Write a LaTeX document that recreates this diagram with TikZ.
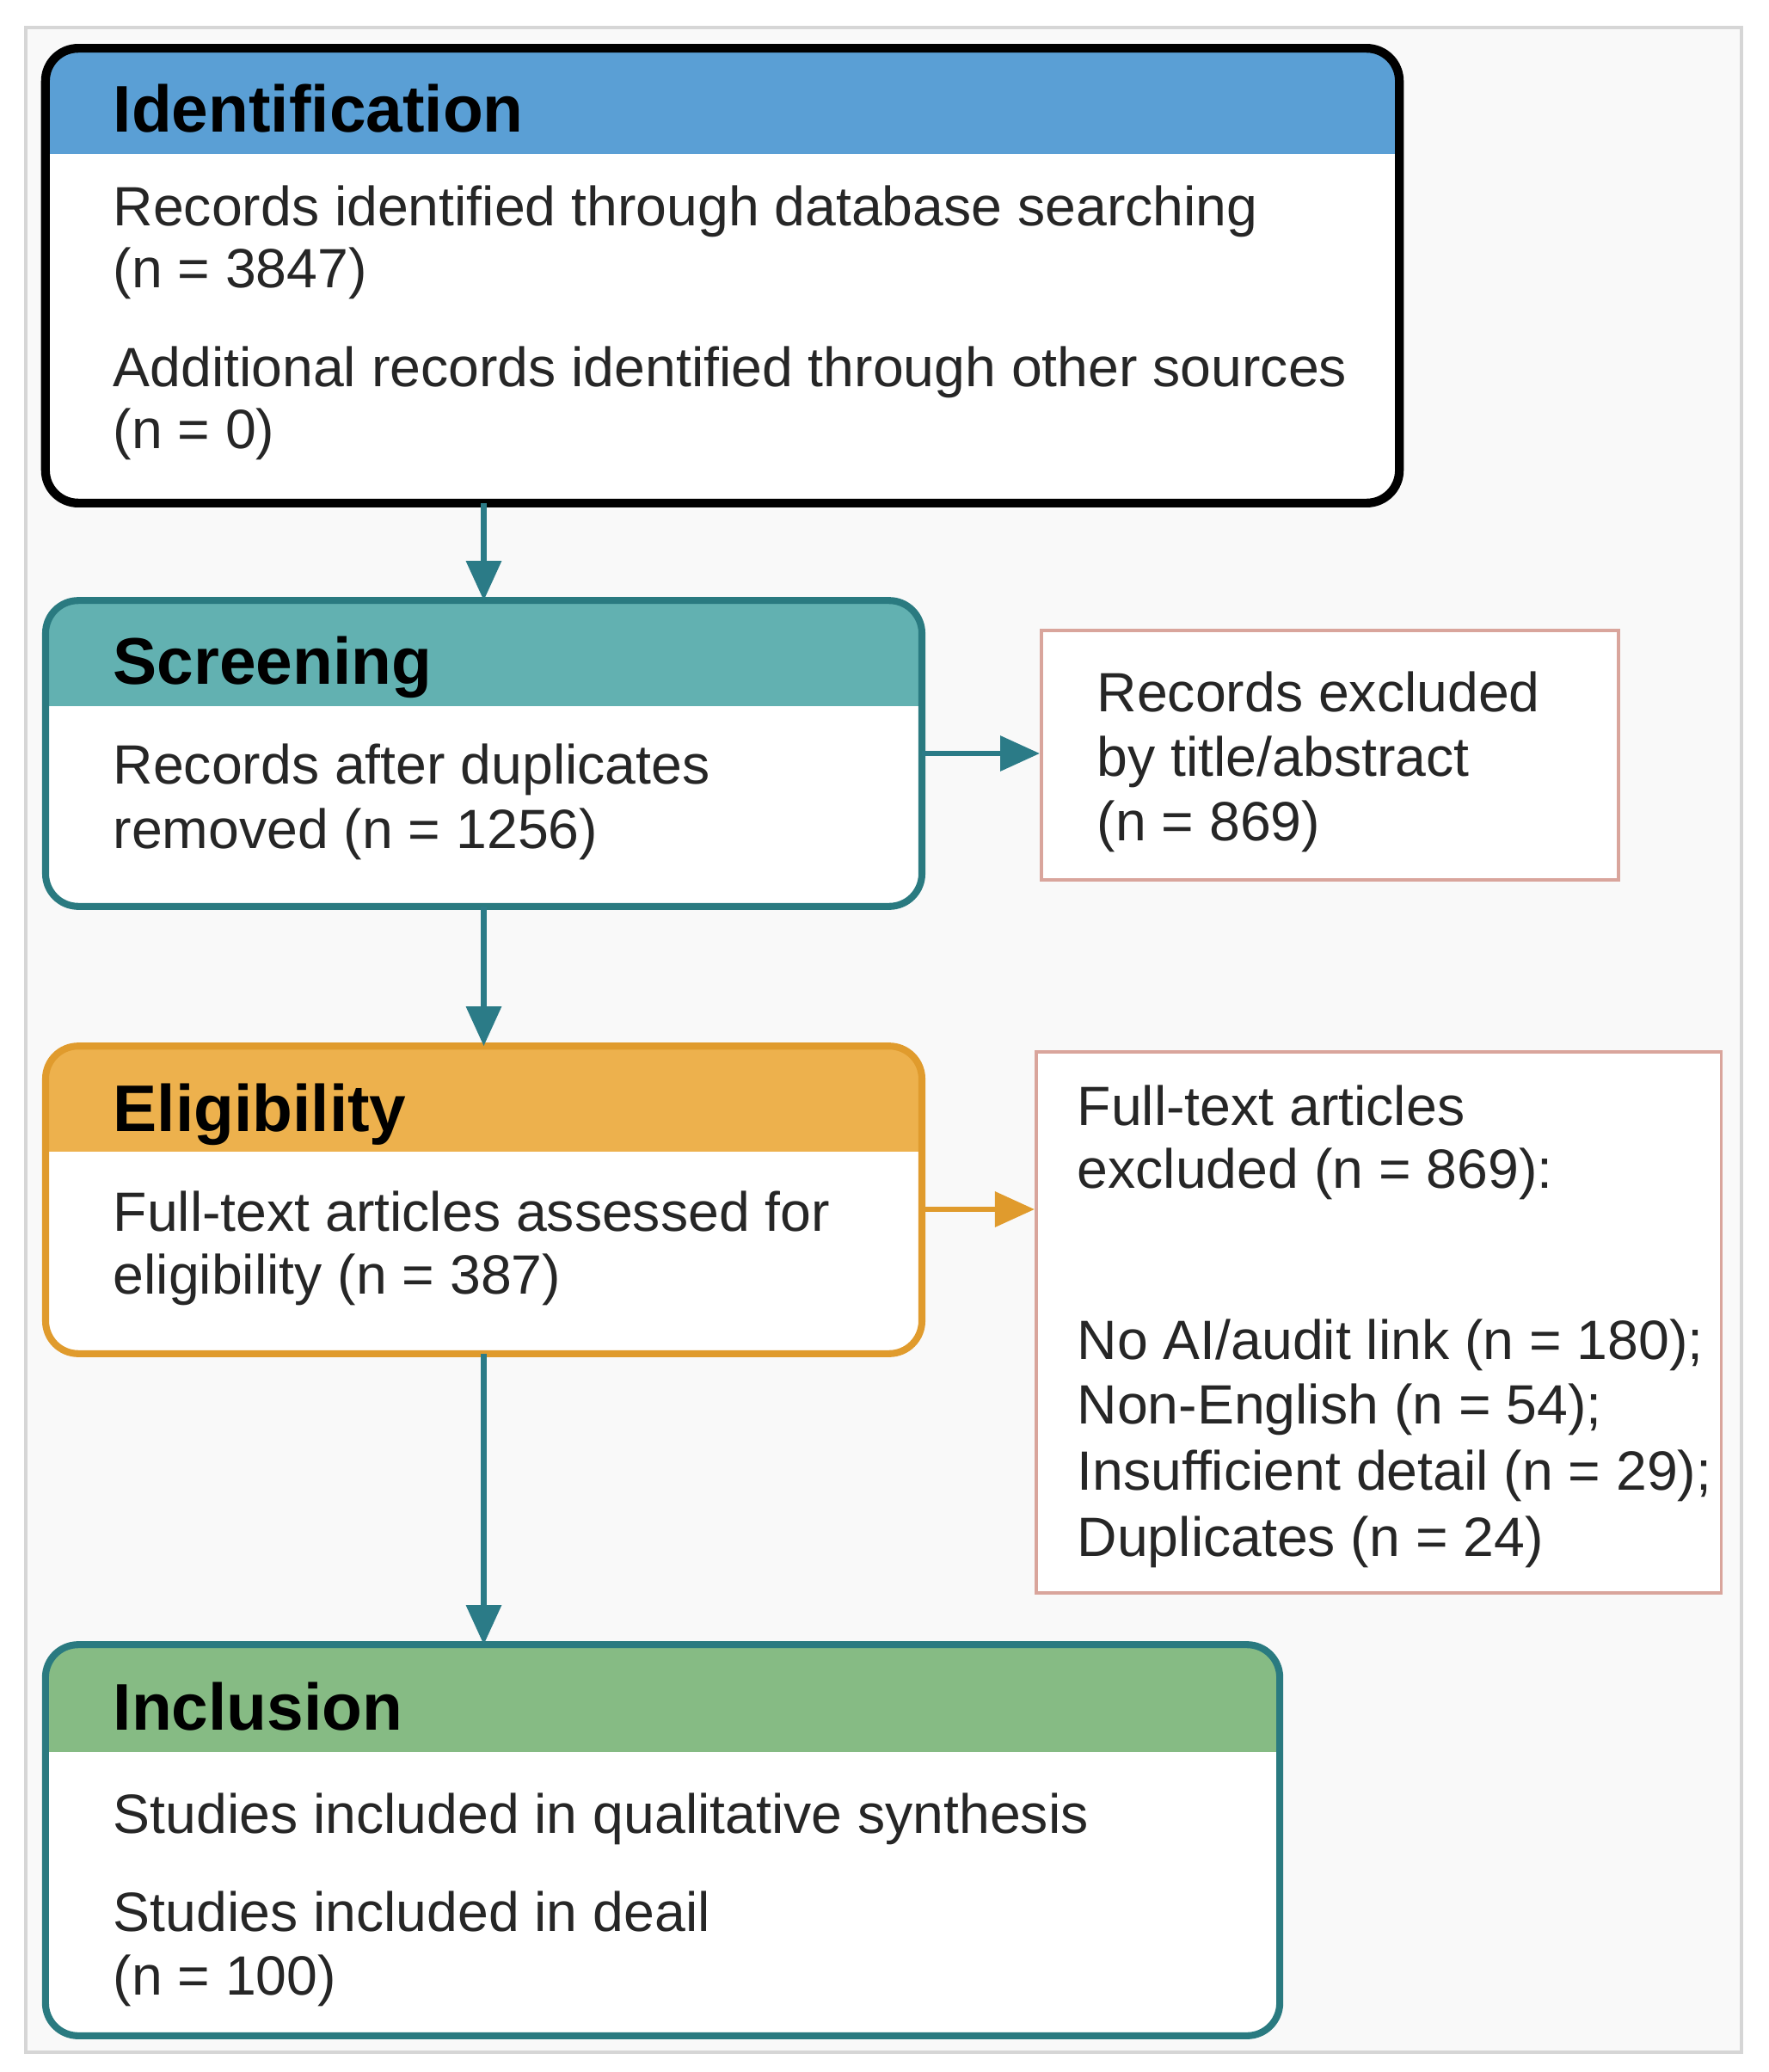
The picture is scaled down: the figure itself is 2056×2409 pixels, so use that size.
\documentclass[tikz,border=0pt]{standalone}
\usepackage{fontspec}
\setmainfont{Liberation Sans}
\usetikzlibrary{arrows.meta,calc}
\definecolor{pagebg}{HTML}{F9F9F9}
\definecolor{framecol}{HTML}{D6D6D6}
\definecolor{idhead}{HTML}{5A9FD5}
\definecolor{scrhead}{HTML}{62B1B1}
\definecolor{elhead}{HTML}{EDB14D}
\definecolor{inhead}{HTML}{86BB84}
\definecolor{tealline}{HTML}{2A7A80}
\definecolor{orangeline}{HTML}{E09B2D}
\definecolor{exline}{HTML}{D9A59C}
\definecolor{arrteal}{HTML}{2B7B87}
\definecolor{bodytext}{HTML}{262626}
\begin{document}
\begin{tikzpicture}[x=0.01cm,y=-0.01cm,
  stagebox/.style={rectangle, rounded corners=0.38cm, fill=white, inner sep=0pt},
  exbox/.style={rectangle, draw=exline, line width=1pt, fill=white, inner sep=0pt},
  txt/.style={anchor=base west, inner sep=0pt, text=bodytext, font=\fontsize{18.3}{21.5}\selectfont},
  hd/.style={anchor=base west, inner sep=0pt, text=black, font=\fontsize{21.8}{24}\selectfont\bfseries},
  arr/.style={draw=arrteal, line width=1.8pt, -{Triangle[length=0.46cm,width=0.40cm]}},
  arro/.style={draw=orangeline, line width=1.8pt, -{Triangle[length=0.46cm,width=0.40cm]}}
]
\useasboundingbox (0,0) rectangle (2056,2409);
\fill[white] (0,0) rectangle (2056,2409);
\fill[pagebg] (30,32) rectangle (2025,2386);
\draw[framecol, line width=1.3pt] (30,32) rectangle (2025,2386);

% Identification
\node[stagebox, minimum width=15.72cm, minimum height=5.27cm] (id) at (840,320.5) {};
\begin{scope}
\clip[rounded corners=0.38cm] (id.south west) rectangle (id.north east);
\fill[idhead] (id.north west) rectangle ($(id.north east)+(0,123)$);
\end{scope}
\draw[black, line width=2.9pt, rounded corners=0.38cm] (id.south west) rectangle (id.north east);
\node[hd] (idh) at (131,153) {Identification};
\node[txt] (id1) at (131,262) {Records identified through database searching};
\node[txt] (id2) at (131,334) {(n = 3847)};
\node[txt] (id3) at (131,449) {Additional records identified through other sources};
\node[txt] (id4) at (131,521) {(n = 0)};

% Screening
\node[stagebox, minimum width=10.17cm, minimum height=3.54cm] (scr) at (562.5,876) {};
\begin{scope}
\clip[rounded corners=0.38cm] (scr.south west) rectangle (scr.north east);
\fill[scrhead] (scr.north west) rectangle ($(scr.north east)+(0,123)$);
\end{scope}
\draw[tealline, line width=2.3pt, rounded corners=0.38cm] (scr.south west) rectangle (scr.north east);
\node[hd] (scrh) at (131,795) {Screening};
\node[txt] (scr1) at (131,911) {Records after duplicates};
\node[txt] (scr2) at (131,986) {removed (n = 1256)};

% Excluded 1
\node[exbox, minimum width=6.71cm, minimum height=2.90cm] (ex1) at (1546.5,878) {};
\node[txt] (ex11) at (1275,827) {Records excluded};
\node[txt] (ex12) at (1275,902) {by title/abstract};
\node[txt] (ex13) at (1275,977) {(n = 869)};

% Eligibility
\node[stagebox, minimum width=10.17cm, minimum height=3.56cm] (el) at (562.5,1395) {};
\begin{scope}
\clip[rounded corners=0.38cm] (el.south west) rectangle (el.north east);
\fill[elhead] (el.north west) rectangle ($(el.north east)+(0,123)$);
\end{scope}
\draw[orangeline, line width=2.3pt, rounded corners=0.38cm] (el.south west) rectangle (el.north east);
\node[hd] (elh) at (131,1315) {Eligibility};
\node[txt] (el1) at (131,1431) {Full-text articles assessed for};
\node[txt] (el2) at (131,1504) {eligibility (n = 387)};

% Excluded 2
\node[exbox, minimum width=7.96cm, minimum height=6.29cm] (ex2) at (1603,1537.5) {};
\node[txt] (ex21) at (1252,1308) {Full-text articles};
\node[txt] (ex22) at (1252,1381) {excluded (n = 869):};
\node[txt] (ex23) at (1252,1580) {No AI/audit link (n = 180);};
\node[txt] (ex24) at (1252,1655) {Non-English (n = 54);};
\node[txt] (ex25) at (1252,1732) {Insufficient detail (n = 29);};
\node[txt] (ex26) at (1252,1809) {Duplicates (n = 24)};

% Inclusion
\node[stagebox, minimum width=14.33cm, minimum height=4.53cm] (in) at (770.5,2139.5) {};
\begin{scope}
\clip[rounded corners=0.38cm] (in.south west) rectangle (in.north east);
\fill[inhead] (in.north west) rectangle ($(in.north east)+(0,125)$);
\end{scope}
\draw[tealline, line width=2.3pt, rounded corners=0.38cm] (in.south west) rectangle (in.north east);
\node[hd] (inh) at (131,2011) {Inclusion};
\node[txt] (in1) at (131,2131) {Studies included in qualitative synthesis};
\node[txt] (in2) at (131,2245) {Studies included in deail};
\node[txt] (in3) at (131,2319) {(n = 100)};

% Connectors
\draw[arr] (scr.north |- id.south) -- (scr.north);
\draw[arr] (scr.east) -- (scr.east -| ex1.west);
\draw[arr] (scr.south) -- (el.north);
\draw[arro] ([yshift=-0.11cm]el.east) -- ([yshift=-0.11cm]el.east -| ex2.west);
\draw[arr] (el.south) -- (el.south |- in.north);
\end{tikzpicture}
\end{document}
